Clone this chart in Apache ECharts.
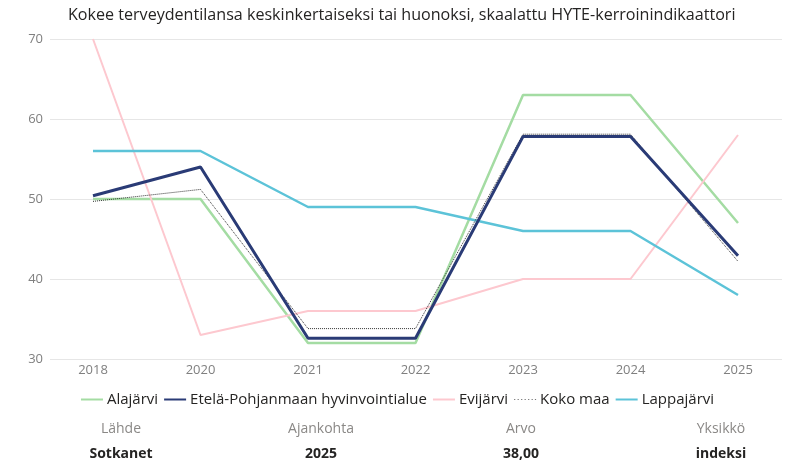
<!DOCTYPE html>
<html>
<head>
<meta charset="utf-8">
<script src="https://cdn.jsdelivr.net/npm/echarts@6/dist/echarts.min.js"></script>
<style>
  html, body { margin: 0; padding: 0; background: #fff; }
  #main { width: 795px; height: 463px; }
</style>
</head>
<body>
<div id="main"></div>
<script>
var years = ['2018', '2020', '2021', '2022', '2023', '2024', '2025'];
var alajarvi = [50, 50, 32, 32, 63, 63, 47];
var etelaPohjanmaa = [50.4, 54, 32.6, 32.6, 57.8, 57.8, 42.9];
var evijarvi = [70, 33, 36, 36, 40, 40, 58];
var kokoMaa = [49.7, 51.2, 33.8, 33.8, 58.1, 58.1, 42.2];
var lappajarvi = [56, 56, 49, 49, 46, 46, 38];
var yTicks = [30, 40, 50, 60, 70];
var infoLabels = ['Lähde', 'Ajankohta', 'Arvo', 'Yksikkö'];
var infoValues = ['Sotkanet', '2025', '38,00', 'indeksi'];

var font = '"Open Sans", "Noto Sans", sans-serif';

// legend icons: plain bar, dotted bar for the national series
var barIcon = 'rect';
var dotIcon = 'path://M0,0h1.2v1h-1.2z M3.5,0h1.2v1h-1.2z M7,0h1.2v1h-1.2z M10.5,0h1.2v1h-1.2z M14,0h1.2v1h-1.2z M17.5,0h1.2v1h-1.2z M20.8,0h1.2v1h-1.2z';

// based ready dom, initialize echarts instance
var myChart = echarts.init(document.getElementById('main'));

function lineSeries(name, data, color, width, type) {
    return {
        name: name,
        type: 'line',
        xAxisIndex: 0,
        yAxisIndex: 0,
        data: data,
        symbol: 'none',
        silent: true,
        lineStyle: { color: color, width: width, type: type || 'solid' },
        itemStyle: { color: color }
    };
}

// info table under the legend
var infoGraphics = [];
infoLabels.forEach(function (t, i) {
    infoGraphics.push({
        type: 'text', x: 121 + i * 200, y: 422,
        style: { text: t, textAlign: 'center', fill: '#8a8886', font: '14px ' + font }
    });
});
infoValues.forEach(function (t, i) {
    infoGraphics.push({
        type: 'text', x: 121 + i * 200, y: 447,
        style: { text: t, textAlign: 'center', fill: '#252423', font: 'bold 14px ' + font }
    });
});

var option = {
    backgroundColor: '#fff',
    animation: false,
    title: {
        text: 'Kokee terveydentilansa keskinkertaiseksi tai huonoksi, skaalattu HYTE-kerroinindikaattori',
        left: 63,
        top: 2,
        textStyle: { color: '#252423', fontSize: 16.1, fontWeight: 'normal', fontFamily: font }
    },
    legend: {
        bottom: 51,
        left: 'center',
        itemWidth: 22,
        itemHeight: 2,
        itemGap: 6,
        textStyle: { color: '#252423', fontSize: 15, fontFamily: font, padding: [0, 0, 0, -1] },
        data: [
            { name: 'Alajärvi', icon: barIcon },
            { name: 'Etelä-Pohjanmaan hyvinvointialue', icon: barIcon },
            { name: 'Evijärvi', icon: barIcon },
            { name: 'Koko maa', icon: dotIcon, itemStyle: { color: '#777' } },
            { name: 'Lappajärvi', icon: barIcon }
        ]
    },
    grid: [
        { left: 93, right: 57, top: 39, bottom: 104 },
        { left: 50, right: 13, top: 39, bottom: 104 }
    ],
    xAxis: [
        {
            type: 'category', gridIndex: 0, data: years, boundaryGap: false,
            axisLine: { show: false }, axisTick: { show: false },
            axisLabel: { color: '#808080', fontSize: 13, fontFamily: font, margin: 5 }
        },
        { type: 'value', gridIndex: 1, show: false }
    ],
    yAxis: [
        {
            type: 'value', gridIndex: 0, min: 30, max: 70, interval: 10,
            axisLabel: { show: false }, splitLine: { show: false },
            axisLine: { show: false }, axisTick: { show: false }
        },
        {
            type: 'value', gridIndex: 1, min: yTicks[0], max: yTicks[yTicks.length - 1], interval: 10,
            axisLine: { show: false }, axisTick: { show: false },
            axisLabel: { color: '#808080', fontSize: 13, fontFamily: font, margin: 7 },
            splitLine: { lineStyle: { color: '#e6e6e6', width: 1 } }
        }
    ],
    graphic: infoGraphics,
    series: [
        lineSeries('Alajärvi', alajarvi, '#a4dca3', 2.5),
        lineSeries('Evijärvi', evijarvi, '#fdc8cf', 2),
        lineSeries('Lappajärvi', lappajarvi, '#5cc3d8', 2.5),
        lineSeries('Koko maa', kokoMaa, '#333333', 1, 'dotted'),
        lineSeries('Etelä-Pohjanmaan hyvinvointialue', etelaPohjanmaa, '#2a3b76', 3)
    ]
};

// Use just the specified configurations and data charts.
myChart.setOption(option);
</script>
</body>
</html>
